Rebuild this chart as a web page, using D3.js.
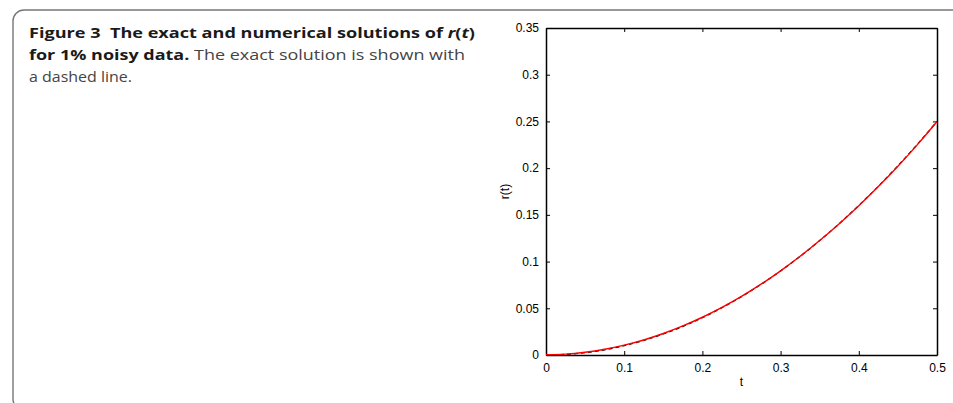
<!DOCTYPE html>
<html>
<head>
<meta charset="utf-8">
<script src="https://cdn.jsdelivr.net/npm/d3@7"></script>
<style>
  body { margin: 0; background: #fff; }
</style>
</head>
<body>
<script>
// data
var tValues = [0, 0.025, 0.05, 0.075, 0.1, 0.125, 0.15, 0.175, 0.2, 0.225, 0.25,
               0.275, 0.3, 0.325, 0.35, 0.375, 0.4, 0.425, 0.45, 0.475, 0.5];
var exactR = [0, 0.000625, 0.0025, 0.005625, 0.01, 0.015625, 0.0225, 0.030625, 0.04,
              0.050625, 0.0625, 0.075625, 0.09, 0.105625, 0.1225, 0.140625, 0.16,
              0.180625, 0.2025, 0.225625, 0.25];
var numericR = [0.0003, 0.0009, 0.0029, 0.0061, 0.0105, 0.0161, 0.0230, 0.0311, 0.0404,
                0.0509, 0.0627, 0.0758, 0.0901, 0.1057, 0.1225, 0.1405, 0.1598,
                0.1803, 0.2021, 0.2252, 0.2497];
var xTicks = [0, 0.1, 0.2, 0.3, 0.4, 0.5];
var yTicks = [0, 0.05, 0.1, 0.15, 0.2, 0.25, 0.3, 0.35];

var W = 953, H = 403;
var pLeft = 546, pRight = 937, pTop = 28, pBottom = 355;

var svg = d3.select("body").append("svg")
  .attr("width", W)
  .attr("height", H);

// frame around the figure
svg.append("rect")
  .attr("x", 13).attr("y", 10)
  .attr("width", 980).attr("height", 400)
  .attr("rx", 11).attr("ry", 11)
  .style("fill", "none")
  .style("stroke", "#777")
  .style("stroke-width", 1.4);

// caption
var cap = svg.append("g").style("font-family", "'Open Sans', sans-serif").style("font-size", "14.5px");
var l1 = cap.append("text").attr("x", 29).attr("y", 38).style("fill", "#1a1a1a").style("font-weight", "bold")
  .attr("textLength", 446).attr("lengthAdjust", "spacingAndGlyphs");
l1.append("tspan").text("Figure 3\u00a0\u00a0The exact and numerical solutions of ");
l1.append("tspan").style("font-style", "italic").text("r");
l1.append("tspan").text("(");
l1.append("tspan").style("font-style", "italic").text("t");
l1.append("tspan").text(")");

var l2 = cap.append("text").attr("x", 29).attr("y", 60)
  .attr("textLength", 436).attr("lengthAdjust", "spacingAndGlyphs");
l2.append("tspan").style("font-weight", "bold").style("fill", "#1a1a1a").text("for 1% noisy data.");
l2.append("tspan").style("fill", "#444").text(" The exact solution is shown with");

cap.append("text").attr("x", 29).attr("y", 82).style("fill", "#444")
  .attr("textLength", 103).attr("lengthAdjust", "spacingAndGlyphs")
  .text("a dashed line.");

// scales
var x = d3.scaleLinear().domain([0, 0.5]).range([pLeft, pRight]);
var y = d3.scaleLinear().domain([0, 0.35]).range([pBottom, pTop]);

var plot = svg.append("g")
  .style("font-family", "'Liberation Sans', Arial, sans-serif")
  .style("font-size", "12px");

// axes with inward ticks, box all round
var fmt = function(d) { return String(+d.toFixed(2)); };
plot.append("g").attr("transform", "translate(0," + pBottom + ")")
  .call(d3.axisBottom(x).tickValues(xTicks).tickSizeInner(-4).tickSizeOuter(0).tickPadding(8).tickFormat(fmt));
plot.append("g").attr("transform", "translate(0," + pTop + ")")
  .call(d3.axisTop(x).tickValues(xTicks).tickSizeInner(-4).tickSizeOuter(0).tickFormat(""));
plot.append("g").attr("transform", "translate(" + pLeft + ",0)")
  .call(d3.axisLeft(y).tickValues(yTicks).tickSizeInner(-4).tickSizeOuter(0).tickPadding(7).tickFormat(fmt));
plot.append("g").attr("transform", "translate(" + pRight + ",0)")
  .call(d3.axisRight(y).tickValues(yTicks).tickSizeInner(-4).tickSizeOuter(0).tickFormat(""));

plot.selectAll(".domain").style("stroke", "#000").style("stroke-width", 1.5);
plot.selectAll(".tick line").style("stroke", "#000").style("stroke-width", 1);
plot.selectAll(".tick text").style("fill", "#000").style("font-size", "12px")
  .style("font-family", "'Liberation Sans', Arial, sans-serif");

// axis labels
plot.append("text")
  .attr("x", (pLeft + pRight) / 2).attr("y", pBottom + 31)
  .attr("text-anchor", "middle")
  .text("t");
plot.append("text")
  .attr("transform", "translate(" + (pLeft - 37) + "," + ((pTop + pBottom) / 2) + ") rotate(-90)")
  .attr("text-anchor", "middle")
  .text("r(t)");

// curves
var line = d3.line().curve(d3.curveMonotoneX);
var exactPts = tValues.map(function(t, i) { return [x(t), y(exactR[i])]; });
var numPts = tValues.map(function(t, i) { return [x(t), y(numericR[i])]; });

plot.append("path")
  .attr("d", line(exactPts))
  .style("fill", "none")
  .style("stroke", "#000")
  .style("stroke-width", 1.3)
  .style("stroke-dasharray", "4,3");

plot.append("path")
  .attr("d", line(numPts))
  .style("fill", "none")
  .style("stroke", "#ff0000")
  .style("stroke-width", 1.4);
</script>
</body>
</html>
